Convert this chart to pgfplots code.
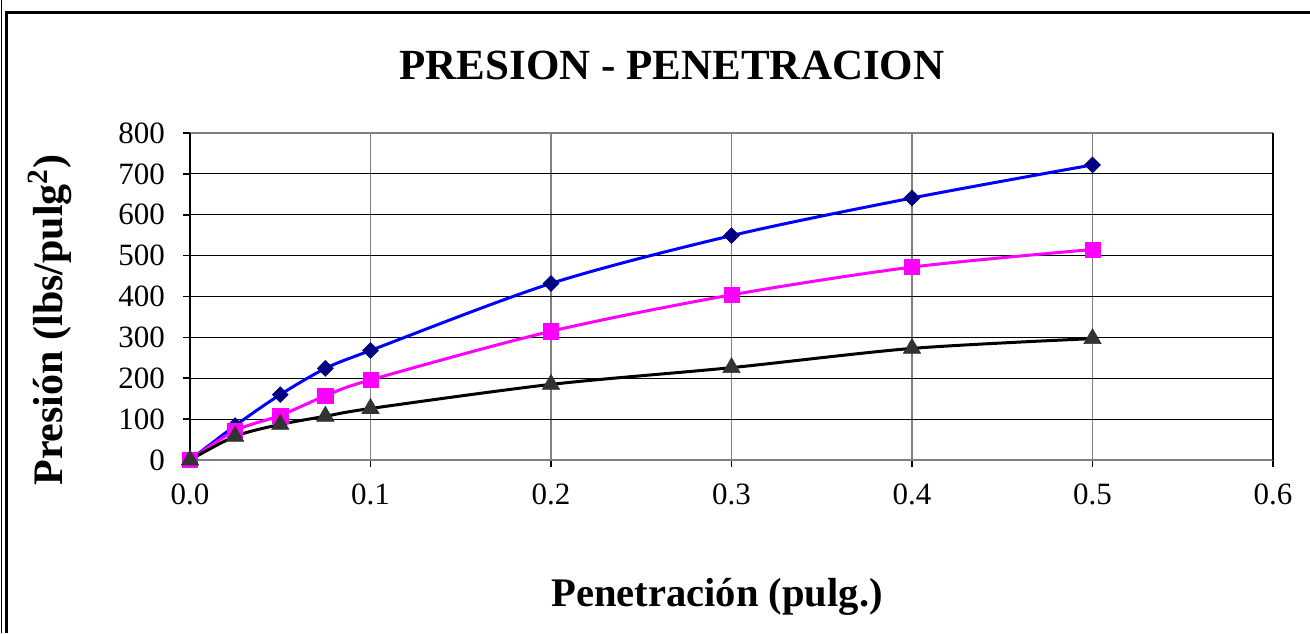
\documentclass[border=0pt]{standalone}
\usepackage{pgfplots}
\pgfplotsset{compat=1.18}
\usepackage{fontspec}
\setmainfont{Liberation Serif}
\definecolor{navyd}{HTML}{000080}
\definecolor{blueL}{HTML}{0000FF}
\definecolor{magL}{HTML}{FF00FF}
\definecolor{grayT}{HTML}{333333}
\definecolor{frameG}{HTML}{808080}
\begin{document}
\begin{tikzpicture}
\useasboundingbox (0pt,0pt) rectangle (655pt,316.5pt);
\draw[black,line width=1.5pt] (3pt,0pt) -- (3pt,310pt) -- (655pt,310pt);
\draw[black,line width=0.5pt] (0.5pt,0pt) -- (0.5pt,316.5pt);
\begin{axis}[
  at={(95pt,86.5pt)}, anchor=south west,
  scale only axis, width=541.5pt, height=163.5pt,
  xmin=0, xmax=0.6, ymin=0, ymax=800,
  xtick={0,0.1,0.2,0.3,0.4,0.5,0.6},
  ytick={0,100,...,800},
  tick pos=left,
  xticklabel style={/pgf/number format/.cd,fixed,fixed zerofill,precision=1},
  /pgf/number format/assume math mode=true,
  ticklabel style={font=\fontsize{15.5}{17}\selectfont},
  tick align=outside,
  major tick length=3.5pt,
  tick style={black,line width=0.8pt},
  xmajorgrids, ymajorgrids,
  x grid style={frameG,line width=0.6pt},
  y grid style={black,line width=0.5pt},
  axis line style={frameG,line width=1pt},
  separate axis lines,
  y axis line style={black,line width=1.2pt},
  xticklabel shift=5pt,
  yticklabel shift=5.5pt,
  clip=false,
]
\addplot[blueL,line width=1.5pt,smooth,tension=0.5,mark=square*,mark size=2.8pt,mark options={rotate=45,fill=navyd,draw=navyd,line width=0.3pt}]
 coordinates {(0,0) (0.025,84) (0.05,160) (0.075,224) (0.1,268) (0.2,432) (0.3,549) (0.4,641) (0.5,722)};
\addplot[magL,line width=1.5pt,smooth,tension=0.5,mark=square*,mark size=3.8pt,mark options={fill=magL,draw=magL,line width=0.3pt}]
 coordinates {(0,0) (0.025,72) (0.05,109) (0.075,157) (0.1,196) (0.2,315) (0.3,404) (0.4,472) (0.5,515)};
\addplot[black,line width=1.5pt,smooth,tension=0.5,mark=triangle*,mark size=5pt,mark options={fill=grayT,draw=grayT,line width=0.3pt}]
 coordinates {(0,0) (0.025,58) (0.05,87) (0.075,107) (0.1,126) (0.2,185) (0.3,226) (0.4,273) (0.5,297)};
\end{axis}
\node[font=\fontsize{21.5}{24}\selectfont\bfseries] at (336pt,284pt) {PRESION - PENETRACION};
\node[font=\fontsize{20.3}{23}\selectfont\bfseries] at (358.5pt,18pt) {Penetración (pulg.)};
\node[font=\fontsize{21}{24}\selectfont\bfseries,rotate=90] at (25pt,156.5pt) {Presión (lbs/pulg\textsuperscript{2})};
\end{tikzpicture}
\end{document}
